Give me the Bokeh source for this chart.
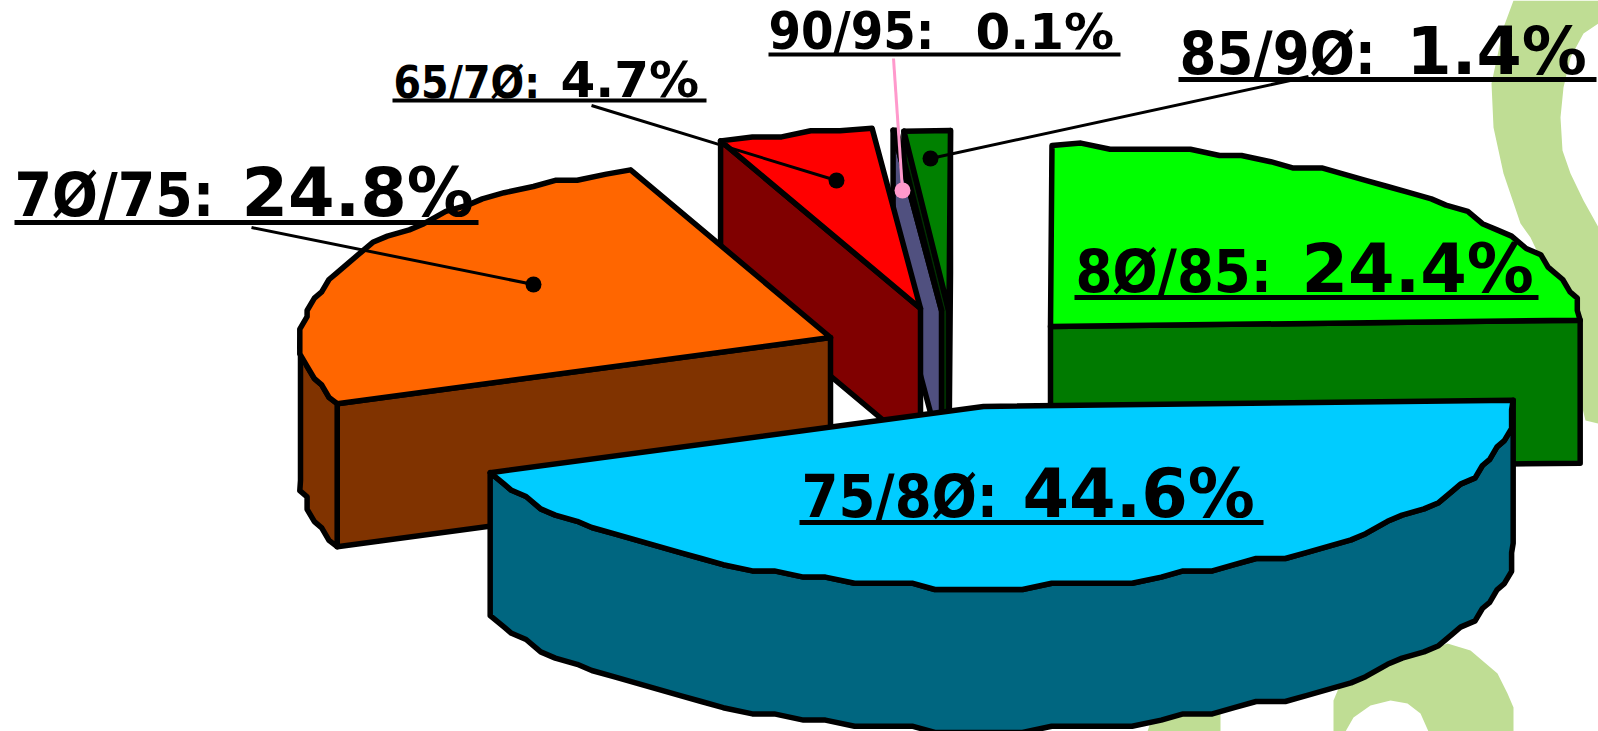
import math
from bokeh.plotting import figure
from bokeh.models import Range1d
from bokeh.core.properties import value
from bokeh.embed import file_html
from bokeh.resources import INLINE

# ---- data (clockwise from the right-hand edge)
categories = ["75/8Ø", "7Ø/75", "65/7Ø", "90/95", "85/9Ø", "8Ø/85"]
shares = [44.6, 24.8, 4.7, 0.1, 1.4, 24.4]
share_labels = ["44.6%", "24.8%", "4.7%", "0.1%", "1.4%", "24.4%"]

# ---- styles and layout
top_colors = ["#00CCFF", "#FF6600", "#FF0000", "#9999FF", "#008000", "#00FF00"]
side_colors = ["#006680", "#803300", "#800000", "#50507F", "#003000", "#007A00"]
apexes = [(983, 406), (830, 337), (920, 308), (941, 310), (948.5, 311), (1050, 326)]
draw_order = [4, 3, 2, 5, 1, 0]
RX, RY, DEPTH, LW = 530, 181, 143, 5.5
START = -2.0
GX, GY = 7.3, 6.2
BASE_FIX = 0.37

# left x, baseline, first-part size, second x, second size, underline y, x0, x1, thickness
label_layout = [
    (801, 518, 59, 1022, 67, 522, 799, 1263, 5),
    (14, 217, 60, 241, 67, 222, 14, 478, 5),
    (393, 98, 44, 560, 50, 100, 392, 706, 4),
    (768, 50, 52, 975, 50, 54, 768, 1120, 4),
    (1179, 75, 59, 1406, 65, 79, 1178, 1596, 5),
    (1075, 293, 59, 1301, 67, 297, 1074, 1538, 5),
]
# start of leader, dot (only slices whose label sits off the slice)
leaders = {
    1: ((251, 227), (533, 284), "black"),
    2: ((591, 105), (836, 180), "black"),
    3: ((893, 58), (902, 190), "#FF99CC"),
    4: ((1308, 76), (930, 158), "black"),
}
swirl_color = "#BFDD94"
swirl_x = [
    [1513, 1503, 1491, 1493, 1503, 1520, 1530, 1560, 1575, 1585, 1598, 1598, 1583, 1570, 1562, 1560, 1563, 1570, 1583, 1598, 1598],
    [1333, 1333, 1338, 1345, 1447, 1470, 1497, 1507, 1513, 1513, 1428, 1420, 1407, 1390, 1370, 1353, 1345],
    [1147, 1152, 1220, 1220],
]
swirl_y = [
    [0, 27, 83, 127, 173, 223, 237, 300, 380, 420, 423, 227, 200, 173, 150, 117, 87, 57, 33, 23, 0],
    [731, 700, 688, 680, 643, 650, 673, 693, 707, 731, 731, 713, 703, 700, 705, 717, 731],
    [731, 715, 700, 731],
]

p = figure(width=1598, height=731, x_range=Range1d(0, 1598), y_range=Range1d(731, 0),
           output_backend="svg", toolbar_location=None, min_border=0,
           outline_line_color=None, background_fill_color="white")
p.axis.visible = False
p.grid.visible = False

for sx, sy in zip(swirl_x, swirl_y):
    p.patch(sx, sy, fill_color=swirl_color, line_color=None)


def rim_point(apex, deg):
    t = math.radians(deg)
    return apex[0] + RX * math.cos(t), apex[1] + RY * math.sin(t)


def arc(apex, a, b):
    """Coarse outline of the ellipse between two angles, on a low-resolution grid."""
    pts = [rim_point(apex, a)]
    n = max(int((b - a) / 3.0), 1)
    for i in range(1, n):
        x, y = rim_point(apex, a + (b - a) * i / n)
        pts.append((round(x / GX) * GX, round(y / GY) * GY))
    pts.append(rim_point(apex, b))
    return pts


def poly(pts, fill):
    p.patch([q[0] for q in pts], [q[1] for q in pts], fill_color=fill,
            line_color="black", line_width=LW, line_join="round")


def shift(pts):
    return [(x, y + DEPTH) for x, y in pts]


spans, angle = [], START
for s in shares:
    spans.append((angle, angle + s * 3.6))
    angle += s * 3.6

for i in draw_order:
    a, b = spans[i]
    apex = apexes[i]
    mid = rim_point(apex, (a + b) / 2)
    for deg in (a, b):
        e = rim_point(apex, deg)
        if abs(e[0] - apex[0]) < 1e-6:
            visible = False
        else:
            edge_y = apex[1] + (e[1] - apex[1]) * (mid[0] - apex[0]) / (e[0] - apex[0])
            visible = mid[1] < edge_y
        if visible:
            quad = [apex, e]
            poly(quad + shift(quad)[::-1], side_colors[i])
    # visible part of the outer wall (front half of the ellipse)
    for lo, hi in ((-3, 180), (360, 540)):
        r0, r1 = max(a, lo), min(b, hi)
        if r1 > r0:
            rim = arc(apex, r0, r1)
            poly(rim + shift(rim)[::-1], side_colors[i])
    poly([apex] + arc(apex, a, b), top_colors[i])

for i, (start, dot, color) in leaders.items():
    p.line([start[0], dot[0]], [start[1], dot[1]], line_color=color, line_width=3)
    p.scatter([dot[0]], [dot[1]], size=16, marker="circle", fill_color=color, line_color=None)

for cat, lab, lay in zip(categories, share_labels, label_layout):
    x1, base, s1, x2, s2, uy, u0, u1, th = lay
    p.text([x1], [base - BASE_FIX * s1], text=[cat + ":"], text_font=value("DejaVu Sans Condensed"), text_font_style="bold",
           text_font_size=f"{s1}px", text_color="black", text_align="left", text_baseline="alphabetic")
    p.text([x2], [base - BASE_FIX * s2], text=[lab], text_font=value("DejaVu Sans"), text_font_style="bold",
           text_font_size=f"{s2}px", text_color="black", text_align="left", text_baseline="alphabetic")
    p.line([u0, u1], [uy, uy], line_color="black", line_width=th)

open("out.html", "w").write(file_html(p, INLINE))
